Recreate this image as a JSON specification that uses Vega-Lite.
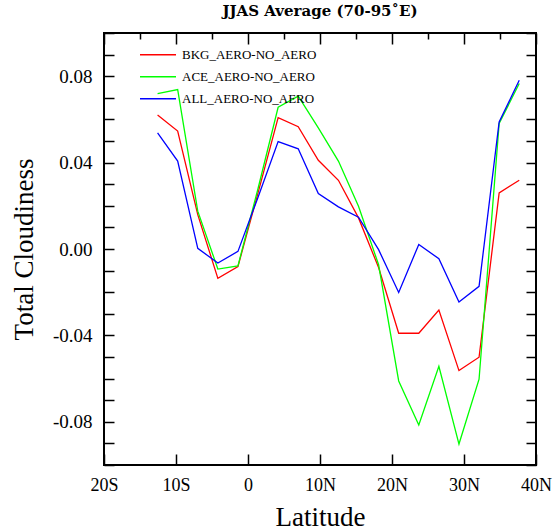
{
  "$schema": "https://vega.github.io/schema/vega-lite/v6.json",
  "width": 432,
  "height": 432,
  "autosize": {"type": "none"},
  "padding": {"left": 104, "top": 33, "right": 24, "bottom": 67},
  "background": "white",
  "title": {"text": "JJAS Average (70-95˚E)", "font": "DejaVu Serif", "fontSize": 15, "fontWeight": "bold", "anchor": "middle", "offset": 5, "color": "black"},
  "config": {"view": {"stroke": "black", "strokeWidth": 2}},
  "datasets": {
    "d": [
      {"lat": -12.558, "series": "BKG_AERO-NO_AERO", "value": 0.062},
      {"lat": -9.767, "series": "BKG_AERO-NO_AERO", "value": 0.0546},
      {"lat": -6.977, "series": "BKG_AERO-NO_AERO", "value": 0.0159},
      {"lat": -4.186, "series": "BKG_AERO-NO_AERO", "value": -0.0136},
      {"lat": -1.395, "series": "BKG_AERO-NO_AERO", "value": -0.0081},
      {"lat": 1.395, "series": "BKG_AERO-NO_AERO", "value": 0.026},
      {"lat": 4.186, "series": "BKG_AERO-NO_AERO", "value": 0.0608},
      {"lat": 6.977, "series": "BKG_AERO-NO_AERO", "value": 0.0566},
      {"lat": 9.767, "series": "BKG_AERO-NO_AERO", "value": 0.0411},
      {"lat": 12.558, "series": "BKG_AERO-NO_AERO", "value": 0.0318},
      {"lat": 15.348, "series": "BKG_AERO-NO_AERO", "value": 0.0144},
      {"lat": 18.139, "series": "BKG_AERO-NO_AERO", "value": -0.0086},
      {"lat": 20.93, "series": "BKG_AERO-NO_AERO", "value": -0.039},
      {"lat": 23.72, "series": "BKG_AERO-NO_AERO", "value": -0.039},
      {"lat": 26.511, "series": "BKG_AERO-NO_AERO", "value": -0.0283},
      {"lat": 29.301, "series": "BKG_AERO-NO_AERO", "value": -0.0563},
      {"lat": 32.092, "series": "BKG_AERO-NO_AERO", "value": -0.0501},
      {"lat": 34.882, "series": "BKG_AERO-NO_AERO", "value": 0.026},
      {"lat": 37.673, "series": "BKG_AERO-NO_AERO", "value": 0.0318},
      {"lat": -12.558, "series": "ACE_AERO-NO_AERO", "value": 0.0719},
      {"lat": -9.767, "series": "ACE_AERO-NO_AERO", "value": 0.0738},
      {"lat": -6.977, "series": "ACE_AERO-NO_AERO", "value": 0.0175},
      {"lat": -4.186, "series": "ACE_AERO-NO_AERO", "value": -0.0093},
      {"lat": -1.395, "series": "ACE_AERO-NO_AERO", "value": -0.0078},
      {"lat": 1.395, "series": "ACE_AERO-NO_AERO", "value": 0.028},
      {"lat": 4.186, "series": "ACE_AERO-NO_AERO", "value": 0.0656},
      {"lat": 6.977, "series": "ACE_AERO-NO_AERO", "value": 0.0708},
      {"lat": 9.767, "series": "ACE_AERO-NO_AERO", "value": 0.0561},
      {"lat": 12.558, "series": "ACE_AERO-NO_AERO", "value": 0.0407},
      {"lat": 15.348, "series": "ACE_AERO-NO_AERO", "value": 0.0198},
      {"lat": 18.139, "series": "ACE_AERO-NO_AERO", "value": -0.0073},
      {"lat": 20.93, "series": "ACE_AERO-NO_AERO", "value": -0.0611},
      {"lat": 23.72, "series": "ACE_AERO-NO_AERO", "value": -0.0815},
      {"lat": 26.511, "series": "ACE_AERO-NO_AERO", "value": -0.0543},
      {"lat": 29.301, "series": "ACE_AERO-NO_AERO", "value": -0.0903},
      {"lat": 32.092, "series": "ACE_AERO-NO_AERO", "value": -0.0603},
      {"lat": 34.882, "series": "ACE_AERO-NO_AERO", "value": 0.0581},
      {"lat": 37.673, "series": "ACE_AERO-NO_AERO", "value": 0.0766},
      {"lat": -12.558, "series": "ALL_AERO-NO_AERO", "value": 0.0538},
      {"lat": -9.767, "series": "ALL_AERO-NO_AERO", "value": 0.0407},
      {"lat": -6.977, "series": "ALL_AERO-NO_AERO", "value": 0.0003},
      {"lat": -4.186, "series": "ALL_AERO-NO_AERO", "value": -0.0065},
      {"lat": -1.395, "series": "ALL_AERO-NO_AERO", "value": -0.0011},
      {"lat": 1.395, "series": "ALL_AERO-NO_AERO", "value": 0.024},
      {"lat": 4.186, "series": "ALL_AERO-NO_AERO", "value": 0.0497},
      {"lat": 6.977, "series": "ALL_AERO-NO_AERO", "value": 0.0464},
      {"lat": 9.767, "series": "ALL_AERO-NO_AERO", "value": 0.0257},
      {"lat": 12.558, "series": "ALL_AERO-NO_AERO", "value": 0.0195},
      {"lat": 15.348, "series": "ALL_AERO-NO_AERO", "value": 0.0147},
      {"lat": 18.139, "series": "ALL_AERO-NO_AERO", "value": -0.0003},
      {"lat": 20.93, "series": "ALL_AERO-NO_AERO", "value": -0.0201},
      {"lat": 23.72, "series": "ALL_AERO-NO_AERO", "value": 0.0021},
      {"lat": 26.511, "series": "ALL_AERO-NO_AERO", "value": -0.0045},
      {"lat": 29.301, "series": "ALL_AERO-NO_AERO", "value": -0.0245},
      {"lat": 32.092, "series": "ALL_AERO-NO_AERO", "value": -0.0173},
      {"lat": 34.882, "series": "ALL_AERO-NO_AERO", "value": 0.0588},
      {"lat": 37.673, "series": "ALL_AERO-NO_AERO", "value": 0.0781}
    ]
  },
  "data": {"name": "d"},
  "layer": [
    {
      "mark": {"type": "line", "strokeWidth": 1.3},
      "encoding": {
        "x": {
          "field": "lat", "type": "quantitative",
          "scale": {"domain": [-20, 40], "nice": false, "zero": false},
          "axis": {
            "orient": "bottom", "offset": -11, "values": [-20, -10, 0, 10, 20, 30, 40],
            "labelExpr": "datum.value == 0 ? '0' : (datum.value < 0 ? abs(datum.value) + 'S' : datum.value + 'N')",
            "ticks": true, "tickColor": "black", "tickWidth": 1.5, "tickSize": 11,
            "grid": false, "domain": false,
            "labelFont": "Liberation Serif", "labelFontSize": 18, "labelColor": "black",
            "labelPadding": 11, "labelFlush": false, "labelOverlap": false,
            "title": "Latitude", "titleFont": "Liberation Serif", "titleFontSize": 27, "titleFontWeight": "normal", "titleColor": "black", "titlePadding": 10
          }
        },
        "y": {
          "field": "value", "type": "quantitative",
          "scale": {"domain": [-0.1, 0.1], "nice": false, "zero": false},
          "axis": {
            "orient": "left", "offset": -10, "values": [-0.1, -0.09, -0.08, -0.07, -0.06, -0.05, -0.04, -0.03, -0.02, -0.01, 0, 0.01, 0.02, 0.03, 0.04, 0.05, 0.06, 0.07, 0.08, 0.09, 0.1],
            "labelExpr": "round(datum.value * 100) % 4 != 0 ? '' : (datum.value < 0 ? '-' + format(abs(datum.value), '.2f') : format(datum.value, '.2f'))",
            "ticks": true, "tickColor": "black", "tickWidth": 1.5, "tickSize": 10,
            "grid": false, "domain": false,
            "labelFont": "Liberation Serif", "labelFontSize": 19, "labelColor": "black",
            "labelPadding": 12, "labelOverlap": false,
            "title": "Total Cloudiness", "titleFont": "Liberation Serif", "titleFontSize": 27, "titleFontWeight": "normal", "titleColor": "black", "titlePadding": 14
          }
        },
        "color": {
          "field": "series", "type": "nominal",
          "scale": {"domain": ["BKG_AERO-NO_AERO", "ACE_AERO-NO_AERO", "ALL_AERO-NO_AERO"], "range": ["#ff0000", "#00ff00", "#0000ff"]},
          "legend": {
            "orient": "none", "legendX": 35, "legendY": 11, "title": null,
            "symbolType": "stroke", "symbolSize": 1296, "symbolStrokeWidth": 1.5,
            "labelFont": "Liberation Serif", "labelFontSize": 13, "labelColor": "black",
            "labelOffset": 5, "clipHeight": 21.5, "rowPadding": 0, "padding": 0
          }
        }
      }
    },
    {
      "mark": {"type": "line", "strokeOpacity": 0},
      "encoding": {
        "detail": {"field": "series", "type": "nominal"},
        "x": {
          "field": "lat", "type": "quantitative",
          "axis": {
            "orient": "top", "values": [-20, -15, -10, -5, 0, 5, 10, 15, 20, 25, 30, 35, 40],
            "labels": false, "domain": false, "title": null, "grid": false,
            "ticks": true, "tickColor": "black", "tickWidth": 1.5,
            "tickSize": {"condition": {"test": "datum.value % 10 == 0", "value": -11}, "value": -6}
          }
        },
        "y": {
          "field": "value", "type": "quantitative",
          "axis": {
            "orient": "right", "values": [-0.1, -0.09, -0.08, -0.07, -0.06, -0.05, -0.04, -0.03, -0.02, -0.01, 0, 0.01, 0.02, 0.03, 0.04, 0.05, 0.06, 0.07, 0.08, 0.09, 0.1],
            "labels": false, "domain": false, "grid": false, "title": null,
            "ticks": true, "tickColor": "black", "tickWidth": 1.5, "tickSize": -10
          }
        }
      }
    }
  ],
  "resolve": {"axis": {"x": "independent", "y": "independent"}}
}
